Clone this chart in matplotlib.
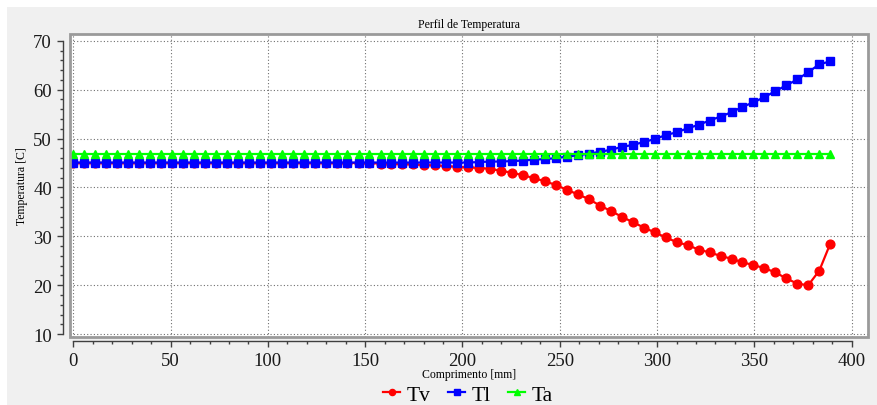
import matplotlib
matplotlib.use('Agg')
import matplotlib.pyplot as plt
from matplotlib.patches import Rectangle
from matplotlib.ticker import MultipleLocator

# Perfil de temperatura ao longo do comprimento

comprimento = [0.0, 5.6, 11.3, 16.9, 22.6, 28.2, 33.8, 39.5, 45.1, 50.7,
               56.4, 62.0, 67.7, 73.3, 78.9, 84.6, 90.2, 95.8, 101.5, 107.1,
               112.8, 118.4, 124.0, 129.7, 135.3, 140.9, 146.6, 152.2, 157.9, 163.5,
               169.1, 174.8, 180.4, 186.0, 191.7, 197.3, 203.0, 208.6, 214.2, 219.9,
               225.5, 231.1, 236.8, 242.4, 248.1, 253.7, 259.3, 265.0, 270.6, 276.2,
               281.9, 287.5, 293.2, 298.8, 304.4, 310.1, 315.7, 321.3, 327.0, 332.6,
               338.3, 343.9, 349.5, 355.2, 360.8, 366.4, 372.1, 377.7, 383.4, 389.0]

tv = [45.0, 45.0, 45.0, 45.0, 45.0, 45.0, 45.0, 45.0, 45.0, 45.0,
      45.0, 45.0, 45.0, 45.0, 45.0, 45.0, 45.0, 45.0, 45.0, 45.0,
      45.0, 45.0, 45.0, 45.0, 45.0, 45.0, 45.0, 44.95, 44.9, 44.85,
      44.8, 44.7, 44.6, 44.5, 44.4, 44.2, 44.1, 44.0, 43.8, 43.4,
      43.0, 42.5, 41.9, 41.25, 40.5, 39.5, 38.6, 37.6, 36.3, 35.2,
      34.0, 32.9, 31.8, 30.8, 29.8, 28.8, 28.2, 27.3, 26.7, 26.0,
      25.4, 24.7, 24.1, 23.5, 22.6, 21.4, 20.3, 20.0, 23.0, 28.5]

tl = [45.1, 45.1, 45.1, 45.1, 45.1, 45.1, 45.1, 45.1, 45.1, 45.1,
      45.1, 45.1, 45.1, 45.1, 45.1, 45.1, 45.1, 45.1, 45.1, 45.1,
      45.1, 45.1, 45.1, 45.1, 45.1, 45.1, 45.1, 45.1, 45.1, 45.1,
      45.1, 45.1, 45.1, 45.1, 45.1, 45.1, 45.1, 45.2, 45.3, 45.3,
      45.4, 45.5, 45.7, 45.8, 46.0, 46.3, 46.6, 46.9, 47.3, 47.7,
      48.3, 48.7, 49.3, 49.9, 50.7, 51.3, 52.1, 52.8, 53.7, 54.5,
      55.4, 56.5, 57.4, 58.5, 59.7, 60.9, 62.1, 63.6, 65.2, 65.8]

ta = [46.9, 46.9, 46.9, 46.9, 46.9, 46.9, 46.9, 46.9, 46.9, 46.9,
      46.9, 46.9, 46.9, 46.9, 46.9, 46.9, 46.9, 46.9, 46.9, 46.9,
      46.9, 46.9, 46.9, 46.9, 46.9, 46.9, 46.9, 46.9, 46.9, 46.9,
      46.9, 46.9, 46.9, 46.9, 46.9, 46.9, 46.9, 46.9, 46.9, 46.9,
      46.9, 46.9, 46.9, 46.9, 46.9, 46.9, 46.9, 46.9, 46.9, 46.9,
      46.9, 46.9, 46.9, 46.9, 46.9, 46.9, 46.9, 46.9, 46.9, 46.9,
      46.9, 46.9, 46.9, 46.9, 46.9, 46.9, 46.9, 46.9, 46.9, 46.9]

plt.rcParams['font.family'] = ['Liberation Serif', 'DejaVu Serif']

W, H = 878, 406
fig = plt.figure(figsize=(W / 100, H / 100), dpi=100, facecolor='white')

# painel cinza do fundo
fig.patches.append(Rectangle((7 / W, 0), 1 - 7 / W, (H - 8) / H,
                             transform=fig.transFigure, facecolor='#f0f0f0',
                             edgecolor='none', zorder=-10))

ax = fig.add_axes([70 / W, (H - 338) / H, (868 - 70) / W, (338 - 35) / H])
ax.set_facecolor('white')

ax.plot(comprimento, tv, color='#ff0000', marker='o', markersize=6.3, linewidth=1.6, label='Tv')
ax.plot(comprimento, tl, color='#0000ff', marker='s', markersize=5.5, linewidth=1.6, label='Tl')
ax.plot(comprimento, ta, color='#00ff00', marker='^', markersize=6.3, linewidth=1.6, label='Ta')

ax.set_xlim(-1.7, 408.4)
ax.set_ylim(9.4, 71.4)

ax.xaxis.set_major_locator(MultipleLocator(50))
ax.xaxis.set_minor_locator(MultipleLocator(10))
ax.yaxis.set_major_locator(MultipleLocator(10))
ax.yaxis.set_minor_locator(MultipleLocator(2))

ax.grid(True, which='major', color='#707070', linestyle=(0, (1, 2)), linewidth=0.8)
ax.set_axisbelow(True)

for s in ['top', 'right']:
    ax.spines[s].set_visible(False)
ax.spines['left'].set_position(('outward', 5))
ax.spines['bottom'].set_position(('outward', 3))
ax.spines['left'].set_bounds(10, 70)
ax.spines['bottom'].set_bounds(0, 400)
for s in ['left', 'bottom']:
    ax.spines[s].set_color('#404040')
    ax.spines[s].set_linewidth(1.0)

# moldura da area do grafico
ax.add_patch(Rectangle((0, 0), 1, 1, transform=ax.transAxes, fill=False,
                       edgecolor='#9a9a9a', linewidth=2, clip_on=False, zorder=5))

ax.tick_params(which='major', length=4, width=1, color='#404040', labelsize=13.5,
               labelcolor='#1a1a1a', pad=4)
ax.tick_params(which='minor', length=2.5, width=1, color='#404040')
ax.set_xticks(range(0, 401, 50))
ax.set_yticks(range(10, 71, 10))

ax.set_title('Perfil de Temperatura', fontsize=8.5, pad=5)
ax.set_xlabel('Comprimento [mm]', fontsize=8.5, labelpad=-1)
ax.set_ylabel('Temperatura [C]', fontsize=8.5, labelpad=4)

fig.legend(loc='center', bbox_to_anchor=(0.533, 0.025), ncol=3, frameon=False,
           fontsize=15.5, handlelength=0.8, handletextpad=0.3, columnspacing=0.8,
           markerscale=0.7)

fig.savefig('out.png', dpi=100, facecolor=fig.get_facecolor())
